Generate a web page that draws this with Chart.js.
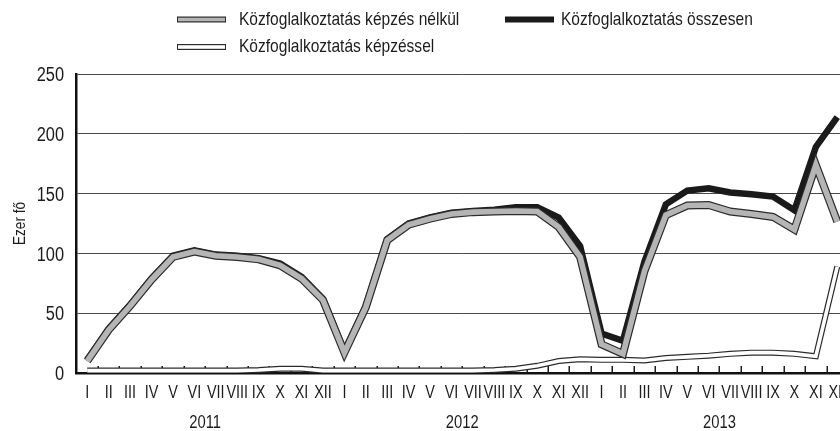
<!DOCTYPE html>
<html>
<head>
<meta charset="utf-8">
<script src="https://cdn.jsdelivr.net/npm/chart.js@4.4.1/dist/chart.umd.min.js"></script>
<style>
  html, body { margin: 0; padding: 0; background: #fff; overflow: hidden; }
  #wrap { width: 850px; height: 431px; }
</style>
</head>
<body>
<div id="wrap"><canvas id="kozfogChart" width="850" height="431"></canvas></div>
<script>
const months = ['I', 'II', 'III', 'IV', 'V', 'VI', 'VII', 'VIII', 'IX', 'X', 'XI', 'XII'];
const years = ['2011', '2012', '2013'];
const yTicks = [0, 50, 100, 150, 200, 250];

const seriesNames = [
    'Közfoglalkoztatás képzés nélkül',
    'Közfoglalkoztatás összesen',
    'Közfoglalkoztatás képzéssel'
];

// ezer fő, havonta 2011 I - 2013 XII
const kepzesNelkul = [
    10, 36, 56, 78, 97, 101.5, 98, 97, 95, 90, 79, 61,
    17, 55, 111, 124, 129, 133, 134.5, 135, 135.5, 135, 122, 97,
    24, 16, 85, 132, 140, 140.5, 135, 133, 130.5, 120, 174, 126.5
];
const osszesen = [
    11, 37, 57, 79, 98, 102.5, 99, 98, 96, 91.5, 80.5, 62,
    18, 56, 112, 125, 130, 134, 135.5, 136.5, 138.5, 138.5, 130, 106,
    33, 27, 93, 141, 152.5, 154.5, 151, 149.5, 147.5, 136, 189, 214
];
const kepzessel = [
    2, 2, 2, 2, 2, 2, 2, 2, 2.5, 3.5, 3.5, 2,
    2, 2, 2, 2, 2, 2, 2, 2.5, 3.5, 6, 10, 11.5,
    11, 11, 10.5, 12.5, 13.5, 14.5, 16, 17, 17, 16, 14, 89
];

const labels = years.flatMap(() => months);

// Liberation Sans squeezed horizontally, to get the narrow look of the original
const FONT = '"Liberation Sans", Arial, sans-serif';
const SQUEEZE = 0.82;
const INK = '#1c1c1c';
const GRAY = '#b5b5b5';
const OUTLINE = '#2b2b2b';

function narrowText(ctx, text, x, y, size, align, angle, squeeze) {
    ctx.save();
    ctx.translate(x, y);
    if (angle) ctx.rotate(angle);
    ctx.scale(squeeze || SQUEEZE, 1);
    ctx.font = size + 'px ' + FONT;
    ctx.textAlign = align;
    ctx.textBaseline = 'alphabetic';
    ctx.fillStyle = INK;
    ctx.fillText(text, 0, 0);
    ctx.restore();
}

const lineBase = {
    pointRadius: 0,
    pointHoverRadius: 0,
    tension: 0,
    fill: false,
    borderJoinStyle: 'miter',
    borderCapStyle: 'butt'
};

// small upward ticks on the category boundaries, under the lines
const boundaryTicks = {
    id: 'boundaryTicks',
    beforeDatasetsDraw(chart) {
        const xs = chart.scales.x;
        const bottom = chart.chartArea.bottom;
        const step = xs.getPixelForValue(1) - xs.getPixelForValue(0);
        const ctx = chart.ctx;
        ctx.save();
        ctx.strokeStyle = INK;
        ctx.lineWidth = 1.5;
        for (let k = 1; k <= labels.length; k++) {
            const x = Math.round(xs.getPixelForValue(k - 1) + step / 2) + 0.25;
            ctx.beginPath();
            ctx.moveTo(x, bottom - 7);
            ctx.lineTo(x, bottom);
            ctx.stroke();
        }
        ctx.restore();
    }
};

// axis labels, year captions and axis title
const axisText = {
    id: 'axisText',
    afterDraw(chart) {
        const xs = chart.scales.x;
        const ys = chart.scales.y;
        const ctx = chart.ctx;
        const area = chart.chartArea;

        labels.forEach((m, i) => {
            narrowText(ctx, m, xs.getPixelForValue(i), 397.5, 17.6, 'center');
        });
        years.forEach((yr, i) => {
            const cx = (xs.getPixelForValue(i * 12 + 5) + xs.getPixelForValue(i * 12 + 6)) / 2;
            narrowText(ctx, yr, cx, 428, 18, 'center');
        });
        yTicks.forEach(v => {
            narrowText(ctx, String(v), area.left - 12.5, ys.getPixelForValue(v) + 7.2, 20, 'right');
        });
        narrowText(ctx, 'Ezer fő', 25, (area.top + area.bottom) / 2, 16.5, 'center', -Math.PI / 2);
    }
};

// legend in two columns with line-like swatches
const lineLegend = {
    id: 'lineLegend',
    afterDraw(chart) {
        const ctx = chart.ctx;
        const items = [
            { name: seriesNames[0], sx: 177, tx: 239, cy: 19.5, base: 24.8, fill: GRAY, edge: OUTLINE },
            { name: seriesNames[1], sx: 505, tx: 561, cy: 19.5, base: 24.8, fill: '#1a1a1a', edge: null },
            { name: seriesNames[2], sx: 177, tx: 239, cy: 47, base: 52.3, fill: '#fff', edge: OUTLINE }
        ];
        items.forEach(it => {
            const w = 49, h = 6;
            const top = it.cy - h / 2;
            if (it.edge) {
                ctx.fillStyle = it.edge;
                ctx.fillRect(it.sx, top, w, h);
                ctx.fillStyle = it.fill;
                ctx.fillRect(it.sx + 1, top + 1.2, w - 2, h - 2.4);
            } else {
                ctx.fillStyle = it.fill;
                ctx.fillRect(it.sx, top, w, h);
            }
            narrowText(ctx, it.name, it.tx, it.base, 18.5, 'left', 0, 0.84);
        });
    }
};

new Chart(document.getElementById('kozfogChart'), {
    type: 'line',
    data: {
        labels: labels,
        datasets: [
            Object.assign({}, lineBase, { label: seriesNames[2] + ' (keret)', data: kepzessel, borderColor: OUTLINE, borderWidth: 6, order: 6 }),
            Object.assign({}, lineBase, { label: seriesNames[2], data: kepzessel, borderColor: '#ffffff', borderWidth: 3.6, order: 5 }),
            Object.assign({}, lineBase, { label: seriesNames[1], data: osszesen, borderColor: '#1a1a1a', borderWidth: 6.5, order: 4 }),
            Object.assign({}, lineBase, { label: seriesNames[0] + ' (keret)', data: kepzesNelkul, borderColor: OUTLINE, borderWidth: 8, order: 2 }),
            Object.assign({}, lineBase, { label: seriesNames[0], data: kepzesNelkul, borderColor: GRAY, borderWidth: 5.6, order: 1 })
        ]
    },
    options: {
        responsive: false,
        animation: false,
        devicePixelRatio: 1,
        layout: { padding: { top: 74, right: 2, left: 0, bottom: 0 } },
        plugins: {
            legend: { display: false },
            tooltip: { enabled: false }
        },
        scales: {
            x: {
                type: 'category',
                offset: true,
                grid: { display: false, drawTicks: false },
                border: { display: true, color: '#111', width: 2.5 },
                ticks: { display: false, autoSkip: false },
                afterFit(scale) { scale.height = 58; }
            },
            y: {
                min: 0,
                max: 250,
                afterBuildTicks(scale) { scale.ticks = yTicks.map(v => ({ value: v })); },
                grid: { color: '#4a4a4a', lineWidth: 1, drawTicks: false },
                border: { display: true, color: '#111', width: 2.5 },
                ticks: { display: false },
                afterFit(scale) { scale.width = 76.5; }
            }
        }
    },
    plugins: [boundaryTicks, axisText, lineLegend]
});
</script>
</body>
</html>
